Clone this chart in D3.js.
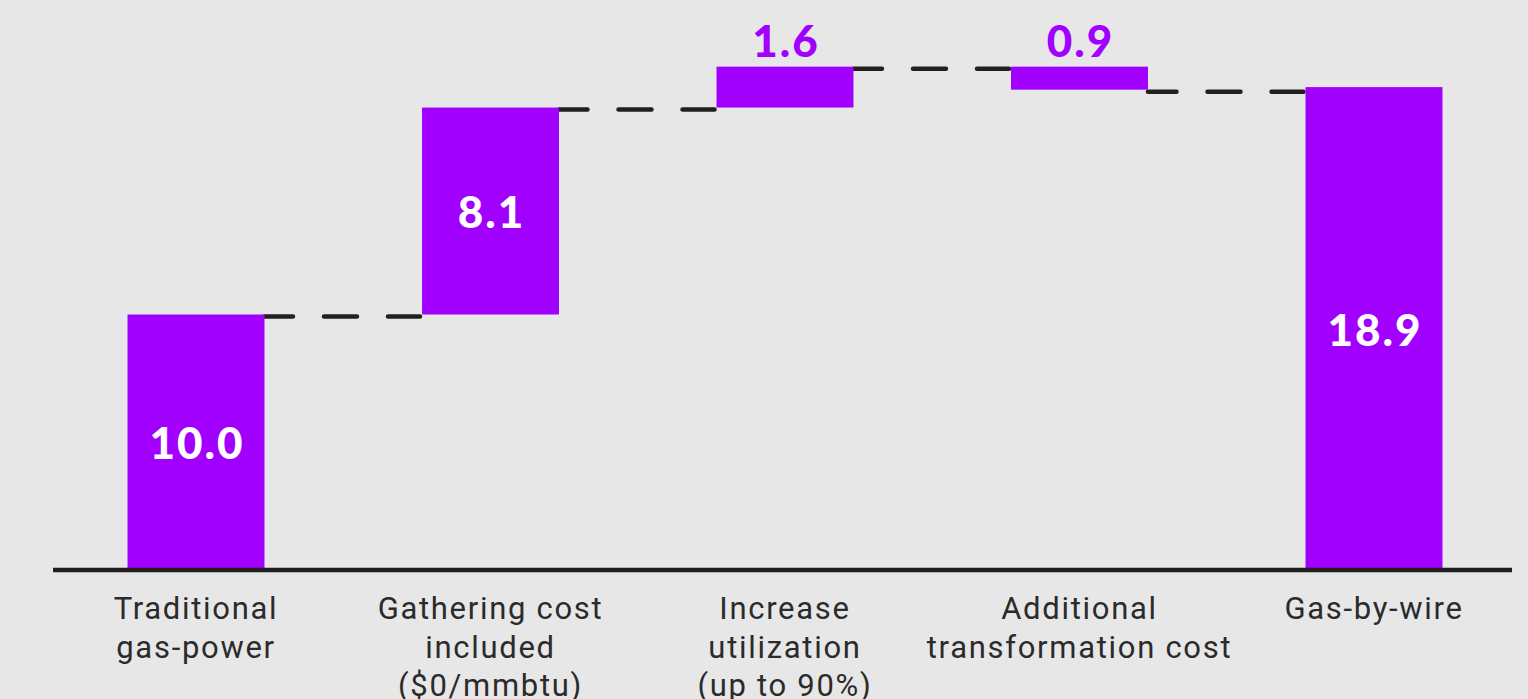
<!DOCTYPE html>
<html>
<head>
<meta charset="utf-8">
<script src="https://cdn.jsdelivr.net/npm/d3@7"></script>
<style>
  html, body { margin: 0; padding: 0; background: #e7e7e7; }
  svg { display: block; }
</style>
</head>
<body>
<svg id="chart" width="1528" height="699"></svg>
<script>
// ---- data ----
const categories = [
  ["Traditional", "gas-power"],
  ["Gathering cost", "included", "($0/mmbtu)"],
  ["Increase", "utilization", "(up to 90%)"],
  ["Additional", "transformation cost"],
  ["Gas-by-wire"]
];
const values = [10.0, 8.1, 1.6, -0.9, 18.9];
const barTypes = ["total", "delta", "delta", "delta", "total"];
const valueLabels = ["10.0", "8.1", "1.6", "0.9", "18.9"];
const yDomain = [0, 20];

// ---- layout ----
const W = 1528, H = 699;
const baseY = 570;
const purple = "#a100ff";
const dark = "#231f20";

const svg = d3.select("#chart");
svg.append("rect").attr("width", W).attr("height", H).attr("fill", "#e7e7e7");

const x = d3.scaleBand()
  .domain(d3.range(categories.length))
  .range([48.75, 1521.25])
  .paddingInner(0.535)
  .paddingOuter(0.2675);

const y = d3.scaleLinear().domain(yDomain).range([baseY, 59]);

// compute waterfall segments
let running = 0;
const bars = values.map((v, i) => {
  let start, end;
  if (barTypes[i] === "total") { start = 0; end = v; running = v; }
  else { start = running; end = running + v; running = end; }
  return { i, v, start, end, level: running, label: valueLabels[i] };
});

// connectors: from right edge of bar i to left edge of bar i+1,
// dash pattern phased as if starting at bar i's centre
const bw = x.bandwidth();
const conn = svg.append("g");
bars.slice(0, -1).forEach((b, k) => {
  const x1 = x(k) + bw;
  const x2 = x(k + 1) - 2;
  conn.append("line")
    .attr("x1", x1).attr("x2", x2)
    .attr("y1", y(b.level) + 2).attr("y2", y(b.level) + 2)
    .attr("stroke", dark)
    .attr("stroke-width", 4.5)
    .attr("stroke-linecap", "round")
    .attr("stroke-dasharray", "33,31")
    .attr("stroke-dashoffset", bw / 2);
});

// bars
svg.append("g").selectAll("rect").data(bars).join("rect")
  .attr("x", d => x(d.i))
  .attr("width", bw)
  .attr("y", d => y(Math.max(d.start, d.end)))
  .attr("height", d => Math.abs(y(d.start) - y(d.end)))
  .attr("fill", purple);

// axis baseline
svg.append("line")
  .attr("x1", 53).attr("x2", 1512)
  .attr("y1", y(0)).attr("y2", y(0))
  .attr("stroke", dark).attr("stroke-width", 4.5);

// value labels
const inside = d => Math.abs(y(d.start) - y(d.end)) > 80;
svg.append("g").selectAll("text").data(bars).join("text")
  .attr("x", d => x(d.i) + bw / 2 + 1)
  .attr("y", d => {
    const top = y(Math.max(d.start, d.end)), bot = y(Math.min(d.start, d.end));
    return inside(d) ? (top + bot) / 2 : top - 27;
  })
  .attr("text-anchor", "middle")
  .attr("dominant-baseline", "central")
  .attr("font-family", "Lato, 'DejaVu Sans', sans-serif")
  .attr("font-weight", 900)
  .attr("font-size", 44)
  .attr("letter-spacing", 2)
  .attr("fill", d => inside(d) ? "#ffffff" : purple)
  .text(d => d.label);

// category labels
const catG = svg.append("g");
categories.forEach((lines, i) => {
  const cx = x(i) + bw / 2;
  const t = catG.append("text")
    .attr("text-anchor", "middle")
    .attr("font-family", "Roboto, 'Open Sans', sans-serif")
    .attr("font-size", 31)
    .attr("letter-spacing", 1.7)
    .attr("fill", "#2b2b2b");
  lines.forEach((ln, j) => {
    t.append("tspan")
      .attr("x", cx)
      .attr("y", 619 + j * 38.5)
      .text(ln);
  });
});
</script>
</body>
</html>
